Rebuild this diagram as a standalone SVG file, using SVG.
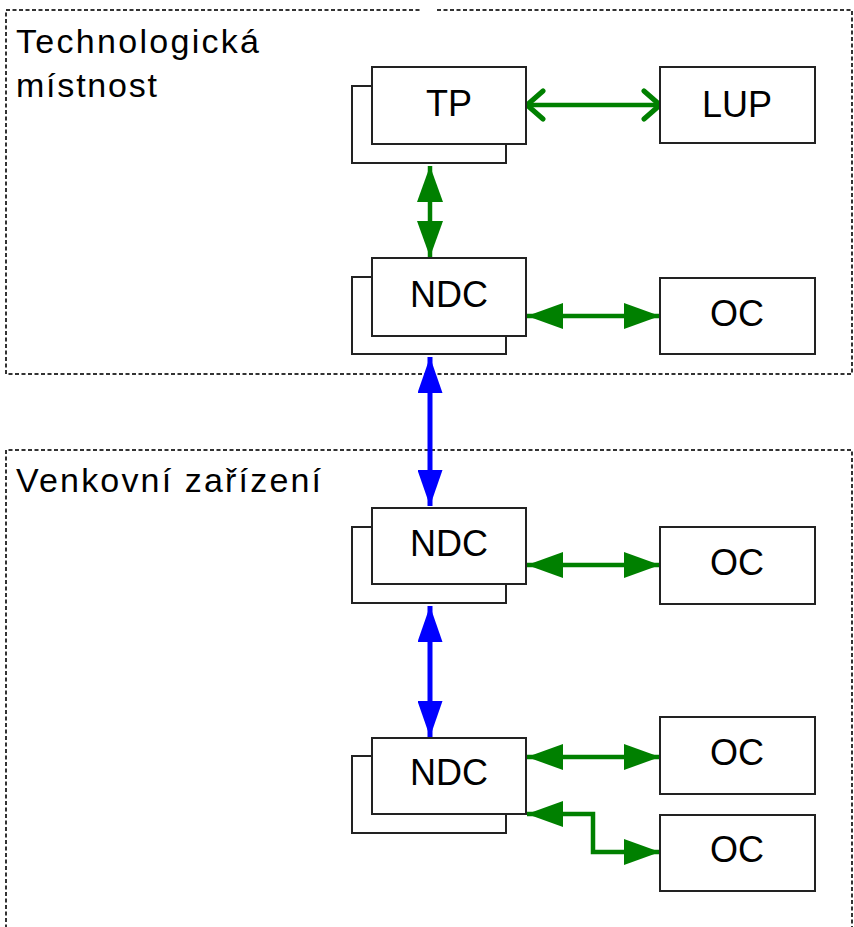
<svg xmlns="http://www.w3.org/2000/svg" width="854" height="927" viewBox="0 0 854 927">
  <style>
    .zone { fill: none; stroke: #333; stroke-width: 2; stroke-dasharray: 4 2.5; }
    .zone-label { font-family: "Liberation Sans", Arial, sans-serif; font-size: 34px; fill: #000; }
    .box { fill: #fff; stroke: #222; stroke-width: 2; }
    .label { font-family: "Liberation Sans", Arial, sans-serif; font-size: 36px; fill: #000; text-anchor: middle; }
    .link-g { fill: none; stroke: #008000; stroke-width: 4.5; }
    .link-b { fill: none; stroke: #0000ff; stroke-width: 5; }
  </style>
  <defs>
    <marker id="head-g" viewBox="0 0 36 26" refX="36" refY="13" markerWidth="36" markerHeight="26" markerUnits="userSpaceOnUse" orient="auto-start-reverse">
      <path d="M0,0 L36,13 L0,26 Z" fill="#008000"/>
    </marker>
    <marker id="head-b" viewBox="0 0 36 25" refX="36" refY="12.5" markerWidth="36" markerHeight="25" markerUnits="userSpaceOnUse" orient="auto-start-reverse">
      <path d="M0,0 L36,12.5 L0,25 Z" fill="#0000ff"/>
    </marker>
    <marker id="chevron-g" viewBox="-3 -3 22 34" refX="16" refY="14" markerWidth="22" markerHeight="34" markerUnits="userSpaceOnUse" orient="auto-start-reverse">
      <path d="M0,0 L16,14 L0,28" fill="none" stroke="#008000" stroke-width="5" stroke-linecap="round" stroke-linejoin="round"/>
    </marker>
  </defs>

  <!-- zones -->
  <g id="zone-tech">
    <path class="zone" d="M437,10 H852 V374 H6 V10 H422"/>
    <text class="zone-label" x="16" y="53" textLength="243" lengthAdjust="spacing">Technologická</text>
    <text class="zone-label" x="16" y="97" textLength="141" lengthAdjust="spacing">místnost</text>
  </g>
  <g id="zone-outdoor">
    <path class="zone" d="M6,935 V450 H852 V935"/>
    <text class="zone-label" x="16" y="492" textLength="305" lengthAdjust="spacing">Venkovní zařízení</text>
  </g>

  <!-- connectors -->
  <g id="connectors">
    <line class="link-g" x1="527" y1="105" x2="660" y2="105" marker-start="url(#chevron-g)" marker-end="url(#chevron-g)"/>
    <line class="link-g" x1="430" y1="166" x2="430" y2="257" marker-start="url(#head-g)" marker-end="url(#head-g)"/>
    <line class="link-g" x1="527" y1="316" x2="660" y2="316" marker-start="url(#head-g)" marker-end="url(#head-g)"/>
    <line class="link-b" x1="430" y1="357" x2="430" y2="506" marker-start="url(#head-b)" marker-end="url(#head-b)"/>
    <line class="link-g" x1="527" y1="565" x2="660" y2="565" marker-start="url(#head-g)" marker-end="url(#head-g)"/>
    <line class="link-b" x1="430" y1="606" x2="430" y2="737" marker-start="url(#head-b)" marker-end="url(#head-b)"/>
    <line class="link-g" x1="527" y1="757" x2="660" y2="757" marker-start="url(#head-g)" marker-end="url(#head-g)"/>
    <path class="link-g" d="M527,814 H593 V852 H660" marker-start="url(#head-g)" marker-end="url(#head-g)"/>
    <line x1="426" y1="67" x2="433" y2="67" stroke="#0000ff" stroke-width="1.5"/>
  </g>

  <!-- nodes -->
  <g id="tp">
    <rect class="box" x="352" y="86" width="154" height="77"/>
    <rect class="box" x="372" y="67" width="154" height="77"/>
    <text class="label" x="449" y="116">TP</text>
  </g>
  <g id="lup">
    <rect class="box" x="660" y="67" width="155" height="76"/>
    <text class="label" x="737" y="117">LUP</text>
  </g>
  <g id="ndc-1">
    <rect class="box" x="352" y="277" width="154" height="77"/>
    <rect class="box" x="372" y="258" width="154" height="78"/>
    <text class="label" x="449" y="307">NDC</text>
  </g>
  <g id="oc-1">
    <rect class="box" x="660" y="278" width="155" height="76"/>
    <text class="label" x="737" y="326">OC</text>
  </g>
  <g id="ndc-2">
    <rect class="box" x="352" y="527" width="154" height="76"/>
    <rect class="box" x="372" y="508" width="154" height="76"/>
    <text class="label" x="449" y="556">NDC</text>
  </g>
  <g id="oc-2">
    <rect class="box" x="660" y="527" width="155" height="77"/>
    <text class="label" x="737" y="575">OC</text>
  </g>
  <g id="ndc-3">
    <rect class="box" x="352" y="756" width="154" height="77"/>
    <rect class="box" x="372" y="738" width="154" height="76"/>
    <text class="label" x="449" y="785">NDC</text>
  </g>
  <g id="oc-3">
    <rect class="box" x="660" y="717" width="155" height="77"/>
    <text class="label" x="737" y="765">OC</text>
  </g>
  <g id="oc-4">
    <rect class="box" x="660" y="815" width="155" height="76"/>
    <text class="label" x="737" y="862">OC</text>
  </g>
</svg>
